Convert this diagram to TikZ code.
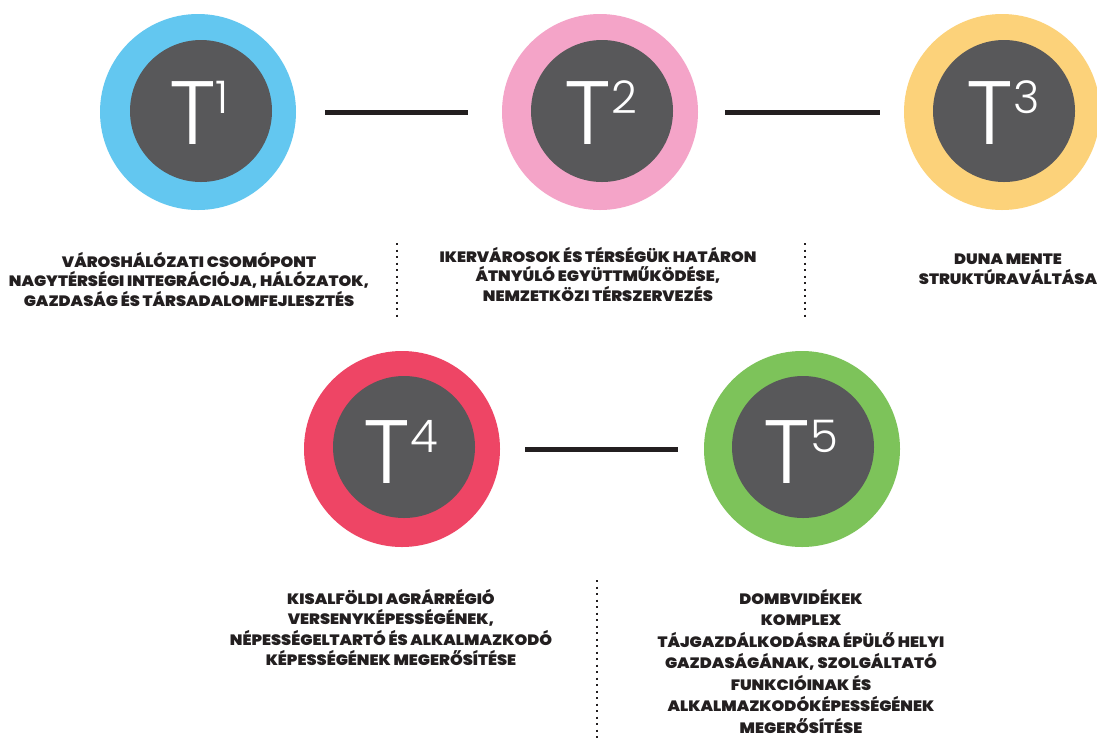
\documentclass[tikz,border=0pt]{standalone}
\usepackage{fontspec}
\IfFontExistsTF{Poppins Light}{\newfontfamily\tfont{Poppins Light}}{\newfontfamily\tfont{Poppins}}
\IfFontExistsTF{Poppins Black}{\newfontfamily\lfont{Poppins Black}[FakeStretch=1.08]}{\newfontfamily\lfont{Poppins}[UprightFont=* Bold,FakeStretch=1.08]}
\definecolor{cblue}{HTML}{63C7F0}
\definecolor{cpink}{HTML}{F4A4C8}
\definecolor{cyellow}{HTML}{FCD27A}
\definecolor{cred}{HTML}{EE4565}
\definecolor{cgreen}{HTML}{7DC35A}
\definecolor{cdark}{HTML}{58585A}
\definecolor{ctext}{HTML}{231F20}
\newcommand{\tlabel}[1]{T\kern0pt\raisebox{31pt}{\fontsize{45}{45}\selectfont #1}}
\tikzset{
  ring/.style={circle, minimum size=196pt, inner sep=0pt, fill=#1, draw=none},
  core/.style={circle, minimum size=142pt, inner sep=0pt, fill=cdark, draw=none},
  ttext/.style={text=white, inner sep=0pt, anchor=base, font=\tfont\fontsize{90}{90}\selectfont},
  lab/.style={align=center, inner sep=0pt, anchor=north, text=ctext, font=\lfont\fontsize{15}{#1}\selectfont},
  lab/.default=20,
  link/.style={line width=5pt, draw=ctext},
  sep/.style={line width=2pt, draw=ctext, dash pattern=on 2pt off 4.5pt}
}
\begin{document}
\begin{tikzpicture}[x=1pt, y=-1pt]
\useasboundingbox[fill=white] (0,0) rectangle (1097,740);
% top row
\node[ring=cblue] (r1) at (198,112) {};
\node[core] (c1) at (201,111) {};
\node[ttext] (t1) at (199,144) {\tlabel{1}};
\node[ring=cpink] (r2) at (600,112) {};
\node[core] (c2) at (602,111) {};
\node[ttext] (t2) at (601,144) {\tlabel{2}};
\node[ring=cyellow] (r3) at (1002,112) {};
\node[core] (c3) at (1004,111) {};
\node[ttext] (t3) at (1003,144) {\tlabel{3}};
% bottom row
\node[ring=cred] (r4) at (402,449) {};
\node[core] (c4) at (404,447) {};
\node[ttext] (t4) at (401,483) {\tlabel{4}};
\node[ring=cgreen] (r5) at (802,449) {};
\node[core] (c5) at (803,447) {};
\node[ttext] (t5) at (801,483) {\tlabel{5}};
% connectors
\draw[link] ([xshift=29pt]r1.east) -- ([xshift=-34pt]r2.west);
\draw[link] ([xshift=27pt]r2.east) -- ([xshift=-24pt]r3.west);
\draw[link] ([xshift=25pt]r4.east) -- ([xshift=-26pt]r5.west);
% labels
\node[lab=19.5] (l1) at (189,252) {VÁROSHÁLÓZATI CSOMÓPONT\\NAGYTÉRSÉGI INTEGRÁCIÓJA, HÁLÓZATOK,\\GAZDASÁG ÉS TÁRSADALOMFEJLESZTÉS};
\node[lab=19.5] (l2) at (598,247) {IKERVÁROSOK ÉS TÉRSÉGÜK HATÁRON\\ÁTNYÚLÓ EGYÜTTMŰKÖDÉSE,\\NEMZETKÖZI TÉRSZERVEZÉS};
\node[lab=19.5] (l3) at (1008,254) {DUNA MENTE\\STRUKTÚRAVÁLTÁSA};
\node[lab=20.5] (l4) at (391,589) {KISALFÖLDI AGRÁRRÉGIÓ\\VERSENYKÉPESSÉGÉNEK,\\NÉPESSÉGELTARTÓ ÉS ALKALMAZKODÓ\\KÉPESSÉGÉNEK MEGERŐSÍTÉSE};
\node[lab=21.5] (l5) at (801,589) {DOMBVIDÉKEK\\KOMPLEX\\TÁJGAZDÁLKODÁSRA ÉPÜLŐ HELYI\\GAZDASÁGÁNAK, SZOLGÁLTATÓ\\FUNKCIÓINAK ÉS\\ALKALMAZKODÓKÉPESSÉGÉNEK\\MEGERŐSÍTÉSE};
% dotted separators
\coordinate (s1a) at (397,243); \coordinate (s1b) at (397,318);
\coordinate (s2a) at (805,243); \coordinate (s2b) at (805,318);
\coordinate (s3a) at (597,580); \coordinate (s3b) at (597,740);
\draw[sep] (s1a) -- (s1b);
\draw[sep] (s2a) -- (s2b);
\draw[sep] (s3a) -- (s3b);
\end{tikzpicture}
\end{document}
